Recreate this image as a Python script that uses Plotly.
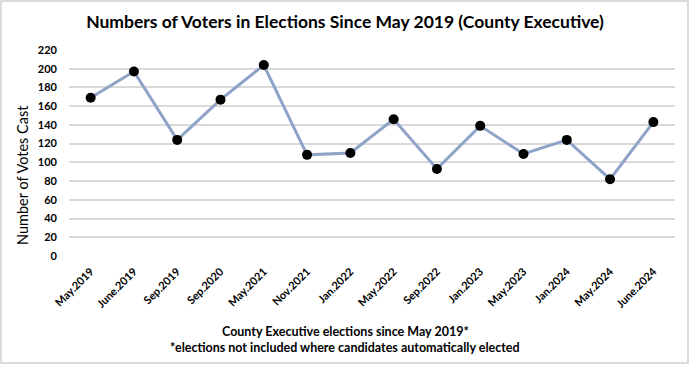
import plotly.graph_objects as go

categories = ["May.2019", "June.2019", "Sep.2019", "Sep.2020", "May.2021", "Nov.2021",
              "Jan.2022", "May.2022", "Sep.2022", "Jan.2023", "May.2023", "Jan.2024",
              "May.2024", "June.2024"]
votes = [169, 197, 124, 167, 204, 108, 110, 146, 93, 139, 109, 124, 82, 143]
y_ticks = list(range(0, 221, 20))

FONT = "Lato"
W, H = 690, 365
L, R, T, B = 69, 15, 50, 109
pw, ph = W - L - R, H - T - B

fig = go.Figure()
fig.add_trace(go.Scatter(
    x=categories, y=votes, mode="lines+markers",
    line=dict(color="#8ea3c7", width=3),
    marker=dict(color="black", size=10),
    showlegend=False, hoverinfo="x+y",
))

fig.update_layout(
    width=W, height=H,
    margin=dict(l=L, r=R, t=T, b=B, autoexpand=False),
    paper_bgcolor="white", plot_bgcolor="white",
    font=dict(family=FONT, color="#000000"),
    title=dict(text="<b>Numbers of Voters in Elections Since May 2019 (County Executive)</b>",
               xref="container", x=0.5, xanchor="center",
               yref="container", y=1 - 22 / H, yanchor="middle",
               font=dict(size=17.5, family=FONT, color="#000000")),
    xaxis=dict(
        type="category", range=[-0.5, len(categories) - 0.5], automargin=False,
        tickangle=-45, tickfont=dict(size=11, family=FONT, color="#000000", weight="bold"),
        showgrid=False, showline=False, ticks="", zeroline=False, ticklabelstandoff=6,
    ),
    yaxis=dict(
        range=[0, 220], tickvals=y_ticks, ticktext=[str(v) for v in y_ticks], automargin=False,
        tickfont=dict(size=11, family=FONT, color="#000000", weight="bold"),
        showgrid=True, gridcolor="#d9d9d9", gridwidth=2,
        zeroline=False, showline=False, ticks="", ticklabelstandoff=11,
    ),
    annotations=[
        dict(text="Number of Votes Cast", textangle=-90, xref="paper", yref="paper",
             x=(22 - L) / pw, y=(H - B - 175) / ph, xanchor="center", yanchor="middle",
             showarrow=False, font=dict(size=14.5, family=FONT, color="#000000")),
        dict(text="<b>County Executive elections since May 2019*</b>", xref="paper", yref="paper",
             x=(345 - L) / pw, y=(H - B - 331) / ph, xanchor="center", yanchor="middle",
             showarrow=False, font=dict(size=12.5, family=FONT, color="#000000")),
        dict(text="<b>*elections not included where candidates automatically elected</b>",
             xref="paper", yref="paper",
             x=(345 - L) / pw, y=(H - B - 347) / ph, xanchor="center", yanchor="middle",
             showarrow=False, font=dict(size=12.5, family=FONT, color="#000000")),
    ],
    shapes=[dict(type="rect", xref="paper", yref="paper",
                 x0=(1 - L) / pw, x1=(688 - L) / pw,
                 y0=(H - B - 363) / ph, y1=(H - B - 1) / ph,
                 line=dict(color="#d0d0d0", width=1.5), fillcolor="rgba(0,0,0,0)",
                 layer="below")],
)

fig.write_html("out.html", config={"displayModeBar": False},
               post_script="document.body.style.margin='0';document.body.style.overflow='hidden';")
